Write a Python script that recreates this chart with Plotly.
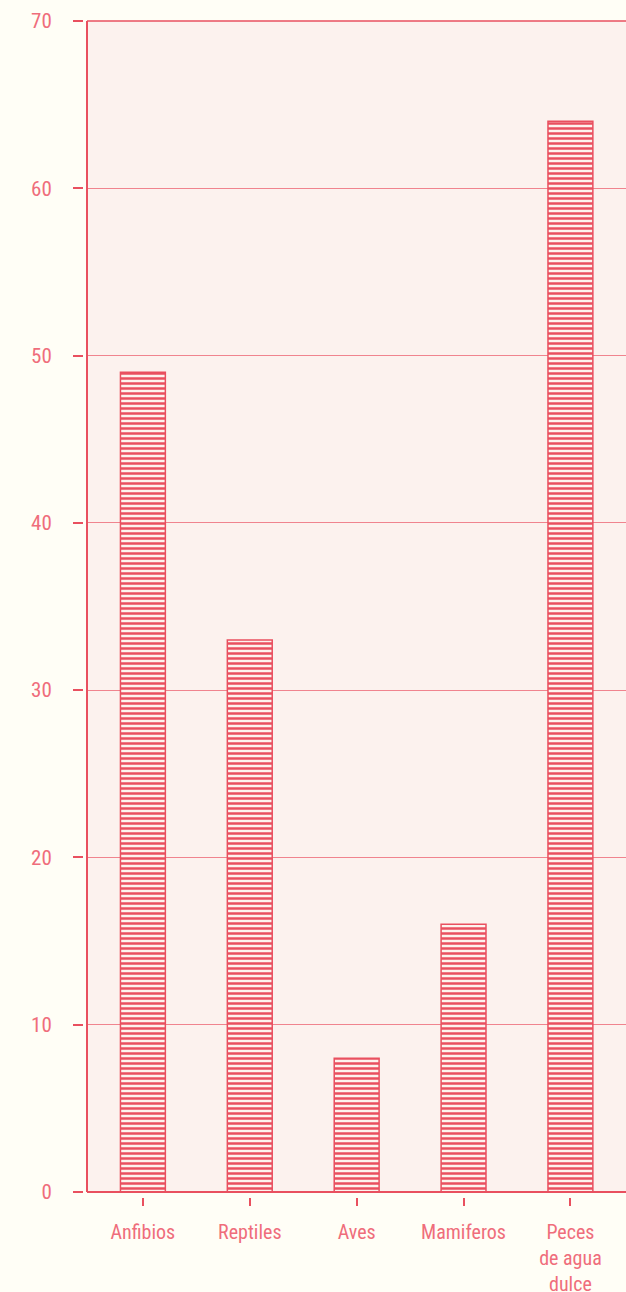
import plotly.graph_objects as go

categories = ["Anfibios", "Reptiles", "Aves", "Mamiferos", "Peces<br>de agua<br>dulce"]
values = [49, 33, 8, 16, 64]
y_ticks = [0, 10, 20, 30, 40, 50, 60, 70]

RED = "#e9505f"
TEXT = "#ef6d7b"
GRID = "#f0848e"
PAPER = "#fffef6"
PLOT = "#fcf2ee"
FONT = "Roboto Condensed, Liberation Sans Narrow, DejaVu Sans Condensed, Roboto, sans-serif"

W, H = 626, 1292
x_left = 87
y_bottom = 1192
y_top = 21

fig = go.Figure(
    go.Bar(
        x=categories,
        y=values,
        width=0.42,
        marker=dict(
            color=RED,
            line=dict(color=RED, width=1.5),
            pattern=dict(shape="-", size=5, solidity=0.5, fgcolor=RED, fgopacity=1, bgcolor="#fdf3ee"),
        ),
        hoverinfo="x+y",
    )
)

fig.update_layout(
    width=W,
    height=H,
    margin=dict(l=0, r=0, t=0, b=0),
    paper_bgcolor=PAPER,
    plot_bgcolor=PLOT,
    font=dict(family=FONT, size=21, color=TEXT),
    showlegend=False,
    xaxis=dict(
        domain=[x_left / W, 1],
        range=[-0.523, 4.52],
        anchor="free",
        position=(H - y_bottom - 5) / H,
        automargin=False,
        showline=False,
        showgrid=False,
        zeroline=False,
        ticks="outside",
        ticklen=8,
        tickwidth=2,
        tickcolor=RED,
        ticklabelstandoff=9,
        tickfont=dict(family=FONT, size=20, color=TEXT),
    ),
    yaxis=dict(
        domain=[(H - y_bottom) / H, (H - y_top) / H],
        range=[0, 70],
        tickvals=y_ticks,
        anchor="free",
        position=(x_left - 4) / W,
        automargin=False,
        showline=False,
        showgrid=True,
        gridcolor=GRID,
        gridwidth=1,
        zeroline=False,
        ticks="outside",
        ticklen=10,
        tickwidth=2,
        tickcolor=RED,
        ticklabelstandoff=17,
        tickfont=dict(family=FONT, size=21, color=TEXT),
    ),
    shapes=[
        dict(type="line", xref="x domain", yref="y domain", x0=0, x1=0, y0=0, y1=1,
             line=dict(color=RED, width=2), layer="above"),
        dict(type="line", xref="x domain", yref="y domain", x0=0, x1=1, y0=0, y1=0,
             line=dict(color=RED, width=2), layer="above"),
        dict(type="line", xref="x domain", yref="y domain", x0=0, x1=1, y0=1, y1=1,
             line=dict(color=RED, width=1.5), layer="above"),
    ],
)

fig.write_html(
    "out.html",
    config={"displayModeBar": False},
    post_script=(
        "document.body.style.margin='0';"
        "document.body.style.overflow='hidden';"
        "document.body.style.background='" + PAPER + "';"
    ),
)
